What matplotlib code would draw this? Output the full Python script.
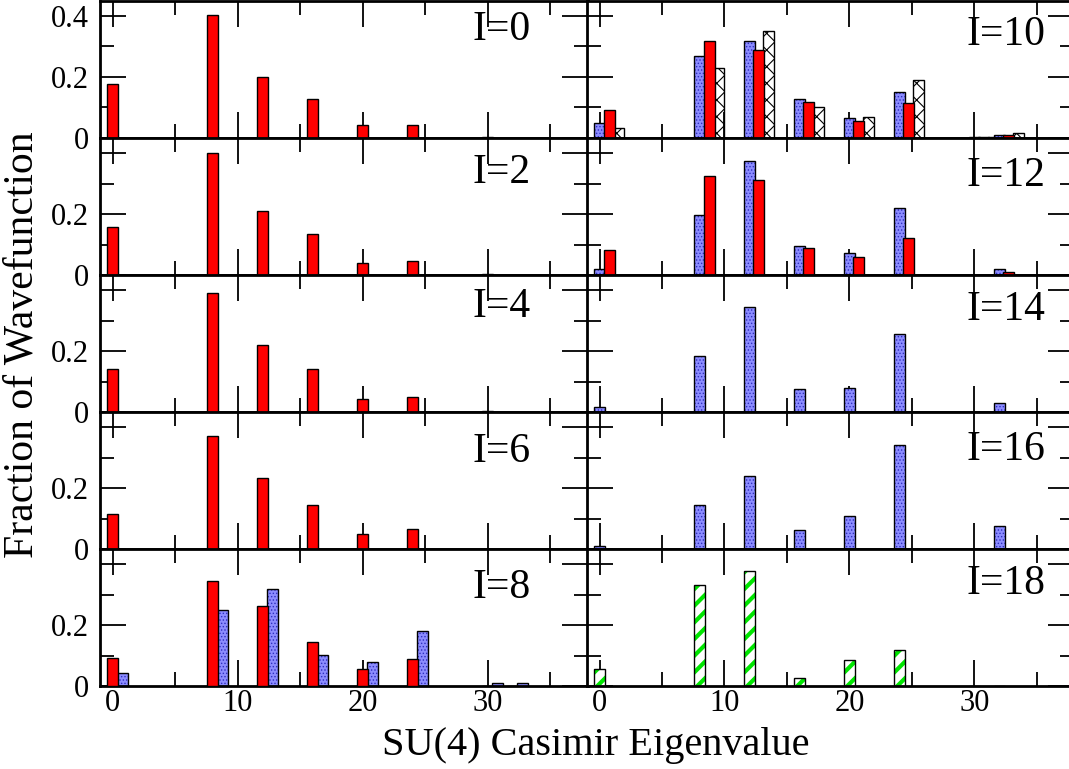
import matplotlib
matplotlib.use('Agg')
import matplotlib.pyplot as plt
from matplotlib.ticker import MultipleLocator

plt.rcParams['font.family'] = ['Liberation Serif', 'DejaVu Serif']

# SU(4) Casimir eigenvalues on the x axis
casimir = [0, 8, 12, 16, 20, 24, 30, 32]

# fraction of wavefunction per eigenvalue
I0_red = [0.177, 0.404, 0.200, 0.129, 0.041, 0.043, 0.003, 0.0]
I2_red = [0.159, 0.401, 0.209, 0.135, 0.040, 0.045, 0.002, 0.0]
I4_red = [0.141, 0.392, 0.219, 0.140, 0.043, 0.049, 0.002, 0.0]
I6_red = [0.114, 0.373, 0.234, 0.144, 0.049, 0.067, 0.002, 0.0]
I8_red = [0.092, 0.345, 0.262, 0.147, 0.057, 0.089, 0.0, 0.0]
I8_blue = [0.043, 0.251, 0.319, 0.104, 0.081, 0.180, 0.010, 0.011]
I10_blue = [0.049, 0.268, 0.318, 0.129, 0.066, 0.151, 0.002, 0.009]
I10_red = [0.092, 0.318, 0.288, 0.118, 0.054, 0.113, 0.002, 0.008]
I10_cross = [0.032, 0.229, 0.352, 0.101, 0.070, 0.190, 0.002, 0.015]
I12_blue = [0.021, 0.198, 0.373, 0.095, 0.073, 0.219, 0.001, 0.020]
I12_red = [0.082, 0.325, 0.313, 0.088, 0.058, 0.120, 0.001, 0.010]
I14_blue = [0.016, 0.184, 0.344, 0.075, 0.080, 0.255, 0.0, 0.030]
I16_blue = [0.012, 0.144, 0.241, 0.064, 0.110, 0.341, 0.0, 0.075]
I18_green = [0.057, 0.332, 0.378, 0.026, 0.085, 0.120, 0.0, 0.001]

panel_labels = ['I=0', 'I=2', 'I=4', 'I=6', 'I=8',
                'I=10', 'I=12', 'I=14', 'I=16', 'I=18']
xtick_labels = ['0', '10', '20', '30']

# bar styles: (facecolor, hatch, hatch colour, hatch linewidth, zorder)
STYLES = {
    'red': ('#ff0000', None, None, 0, 3),
    'blue': ('#8c8cff', '.....', '#2f2fc0', 0.6, 2),
    'cross': ('white', 'xx', 'black', 0.8, 1),
    'green': ('white', '//', '#00e600', 3.0, 2),
}

# (series, offset) per panel, column-major: left column then right column
panels = [
    [('red', I0_red, 0)],
    [('red', I2_red, 0)],
    [('red', I4_red, 0)],
    [('red', I6_red, 0)],
    [('red', I8_red, 0), ('blue', I8_blue, 0.76)],
    [('blue', I10_blue, 0), ('red', I10_red, 0.76), ('cross', I10_cross, 1.52)],
    [('blue', I12_blue, 0), ('red', I12_red, 0.76)],
    [('blue', I14_blue, 0)],
    [('blue', I16_blue, 0)],
    [('green', I18_green, 0)],
]

# label baseline, pixels below each panel top
label_drop = [39, 45, 42, 50, 49, 44, 48, 45, 48, 45]

W, H = 1069, 769
fig = plt.figure(figsize=(W / 100, H / 100), dpi=100)

x0_px = [100, 587]
pw, ph = 487.5, 137.1
top_px = 0.8
bar_w = 0.88


def draw_bars(ax, kind, vals, off):
    fc, hatch, hc, hlw, z = STYLES[kind]
    xs = [c + off for c in casimir]
    if hatch is None:
        ax.bar(xs, vals, bar_w, color=fc, edgecolor='black', linewidth=1.0, zorder=z)
        return
    bars = ax.bar(xs, vals, bar_w, color=fc, edgecolor=hc, hatch=hatch,
                  linewidth=0, zorder=z)
    for b in bars:
        if hasattr(b, 'set_hatch_linewidth'):
            b.set_hatch_linewidth(hlw)
    ax.bar(xs, vals, bar_w, fill=False, edgecolor='black', linewidth=1.0, zorder=z)


for k, series in enumerate(panels):
    col, row = divmod(k, 5)
    left = x0_px[col] / W
    bottom = 1 - (top_px + (row + 1) * ph) / H
    ax = fig.add_axes([left, bottom, pw / W, ph / H])

    with plt.rc_context({'hatch.linewidth': max(STYLES[s[0]][3] for s in series)}):
        for kind, vals, off in series:
            draw_bars(ax, kind, vals, off)

    ax.set_xlim(-1, 38)
    ax.set_ylim(0, 0.45)
    ax.xaxis.set_major_locator(MultipleLocator(10))
    ax.xaxis.set_minor_locator(MultipleLocator(5))
    ax.set_yticks([0, 0.2, 0.4])
    ax.yaxis.set_minor_locator(MultipleLocator(0.1))
    ax.tick_params(which='both', direction='in', top=True, right=True,
                   labelsize=22, width=1.3)
    ax.tick_params(axis='y', pad=8)
    ax.tick_params(axis='x', pad=2)
    ax.tick_params(which='major', length=19)
    ax.tick_params(which='minor', length=10)
    for sp in ax.spines.values():
        sp.set_linewidth(2)

    if col == 0:
        ax.set_yticklabels(['0', '0.2', '0.4' if row == 0 else ''])
    else:
        ax.set_yticklabels([])
    if row == 4:
        ax.set_xticks([0, 10, 20, 30])
        ax.set_xticklabels(xtick_labels)
    else:
        ax.set_xticklabels([])

    lx = 0.765 if col == 0 else 0.779
    ax.text(lx, 1 - label_drop[k] / ph, panel_labels[k], transform=ax.transAxes,
            fontsize=30, ha='left', va='baseline')

fig.text(22 / W, 1 - 345 / H, 'Fraction of Wavefunction', rotation=90,
         fontsize=30, ha='center', va='center')
fig.text(596 / W, 1 - 745 / H, 'SU(4) Casimir Eigenvalue',
         fontsize=29, ha='center', va='center')

fig.savefig('out.png', dpi=100)
